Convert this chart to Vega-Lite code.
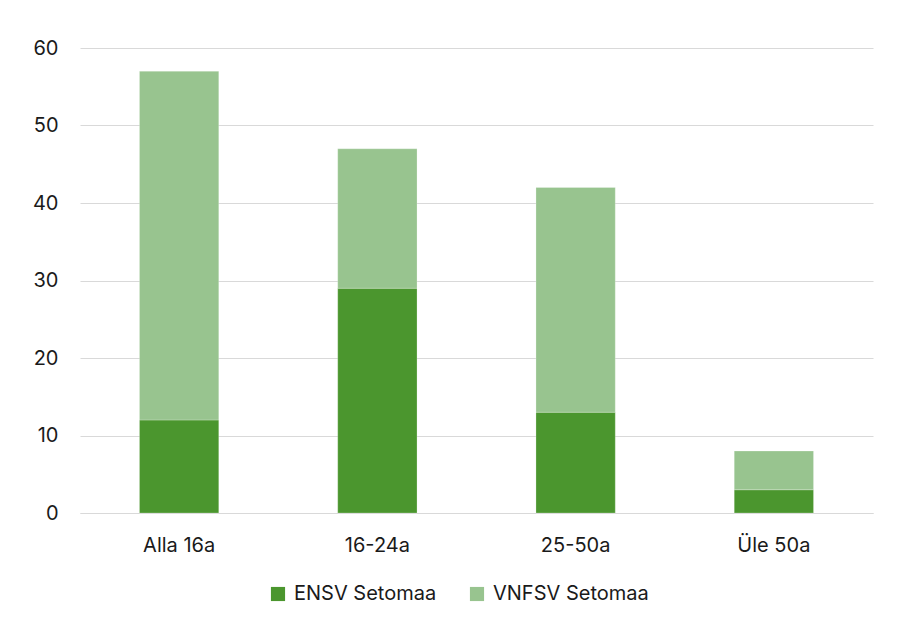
{
  "$schema": "https://vega.github.io/schema/vega-lite/v6.json",
  "autosize": "none",
  "width": 793,
  "height": 465,
  "padding": {"left": 80, "top": 48, "right": 25, "bottom": 121},
  "background": "white",
  "config": {
    "view": {"stroke": null},
    "font": "Inter",
    "axis": {"labelFont": "Inter", "labelColor": "#1a1a1a", "labelFontSize": 20, "gridColor": "#d9d9d9", "gridWidth": 1.2},
    "legend": {"labelFont": "Inter", "labelFontSize": 20, "labelColor": "#1a1a1a"}
  },
  "data": {
    "values": [
      {"group": "Alla 16a", "series": "ENSV Setomaa", "value": 12, "order": 1},
      {"group": "Alla 16a", "series": "VNFSV Setomaa", "value": 45, "order": 2},
      {"group": "16-24a", "series": "ENSV Setomaa", "value": 29, "order": 1},
      {"group": "16-24a", "series": "VNFSV Setomaa", "value": 18, "order": 2},
      {"group": "25-50a", "series": "ENSV Setomaa", "value": 13, "order": 1},
      {"group": "25-50a", "series": "VNFSV Setomaa", "value": 29, "order": 2},
      {"group": "Üle 50a", "series": "ENSV Setomaa", "value": 3, "order": 1},
      {"group": "Üle 50a", "series": "VNFSV Setomaa", "value": 5, "order": 2}
    ]
  },
  "mark": {"type": "bar", "stroke": "white", "strokeOpacity": 0.3, "strokeWidth": 0.8},
  "encoding": {
    "x": {
      "field": "group", "type": "nominal",
      "sort": ["Alla 16a", "16-24a", "25-50a", "Üle 50a"],
      "scale": {"paddingInner": 0.6, "paddingOuter": 0.3},
      "axis": {"title": null, "labelAngle": 0, "ticks": false, "domain": true, "domainColor": "#d9d9d9", "domainWidth": 1.2, "labelPadding": 22, "grid": false}
    },
    "y": {
      "field": "value", "type": "quantitative", "stack": "zero",
      "scale": {"domain": [0, 60]},
      "axis": {"title": null, "values": [0, 10, 20, 30, 40, 50, 60], "ticks": false, "domain": false, "labelPadding": 22, "grid": true}
    },
    "color": {
      "field": "series", "type": "nominal",
      "scale": {"domain": ["ENSV Setomaa", "VNFSV Setomaa"], "range": ["#4b962e", "#98c48f"]},
      "legend": {"title": null, "orient": "none", "direction": "horizontal", "legendX": 188, "legendY": 536, "symbolType": "square", "symbolSize": 200, "symbolStrokeWidth": 0, "columnPadding": 30, "labelOffset": 6}
    },
    "order": {"field": "order", "type": "quantitative"}
  }
}
